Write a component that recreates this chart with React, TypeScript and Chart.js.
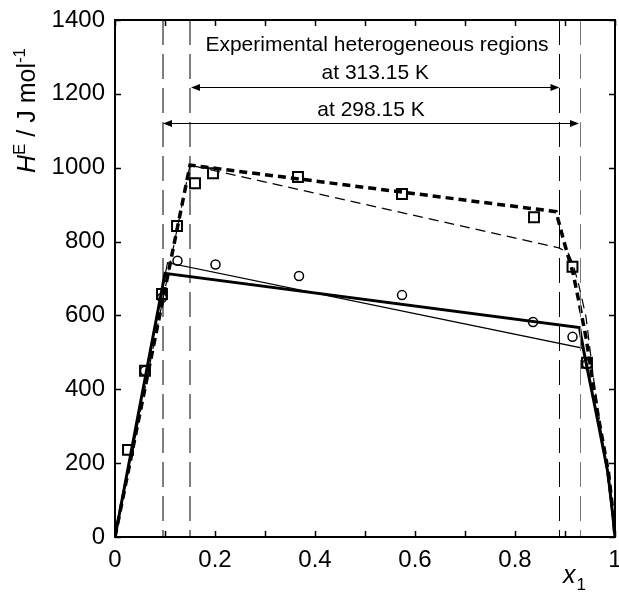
import React, { useEffect, useRef } from "react";
import { Chart, registerables } from "chart.js";

Chart.register(...registerables);

const FONT = '"Liberation Sans", Arial, Helvetica, sans-serif';

// Experimental data (squares: 313.15 K, circles: 298.15 K)
const squareX = [0.026, 0.06, 0.094, 0.124, 0.16, 0.196, 0.366, 0.574, 0.838, 0.915, 0.944];
const squareY = [236, 450, 658, 842, 958, 985, 975, 929, 866, 732, 472];
const circleX = [0.06, 0.094, 0.125, 0.201, 0.368, 0.574, 0.836, 0.915, 0.944];
const circleY = [450, 648, 748, 738, 707, 655, 582, 542, 468];

// Model curves
const thickSolidX = [0, 0.1, 0.929, 0.938, 0.964, 0.986, 0.996, 1];
const thickSolidY = [0, 714, 567, 500, 325, 173, 54, 0];
const thinSolidX = [0, 0.105, 0.937, 0.945, 0.966, 0.987, 0.996, 1];
const thinSolidY = [0, 743, 511, 455, 315, 168, 54, 0];
const thickDashX = [0, 0.15, 0.882, 0.9, 0.916, 0.93, 0.942, 0.966, 0.987, 0.997, 1];
const thickDashY = [0, 1007, 881, 790, 715, 623, 540, 330, 175, 55, 0];
const thinDashX = [0, 0.15, 0.888, 0.906, 0.916, 0.928, 0.942, 0.958, 0.975, 0.99, 1];
const thinDashY = [0, 1007, 783, 770, 740, 680, 596, 420, 260, 110, 0];

// Heterogeneous region boundaries
const boundaryX = [0.096, 0.15, 0.889, 0.931];
const boundaryColors = ["#000000", "#000000", "#000000", "#7a7a7a"];

// Axis settings
const xMin = 0, xMax = 1, xStep = 0.1;
const yMin = 0, yMax = 1400, yStep = 200;
const xLabels = ["0", "0.2", "0.4", "0.6", "0.8", "1"];

// Annotations
const titleText = "Experimental heterogeneous regions";
const titlePos = { x: 0.524, y: 1332 };
const arrow313 = { label: "at 313.15 K", from: 0.152, to: 0.889, y: 1218, labelY: 1255 };
const arrow298 = { label: "at 298.15 K", from: 0.096, to: 0.928, y: 1121, labelY: 1156 };

const zip = (xs: number[], ys: number[]) => xs.map((x, i) => ({ x, y: ys[i] }));

const decorPlugin = {
  id: "decor",
  afterDraw(chart: any) {
    const ctx = chart.ctx as CanvasRenderingContext2D;
    const xs = chart.scales.x;
    const ys = chart.scales.y;
    const { left, right, top, bottom } = chart.chartArea;
    ctx.save();
    // ticks inward
    ctx.strokeStyle = "#000";
    ctx.lineWidth = 1.5;
    const tl = 6;
    ctx.beginPath();
    for (let v = xMin; v <= xMax + 1e-9; v += xStep) {
      const px = Math.round(xs.getPixelForValue(v)) + 0.5;
      ctx.moveTo(px, bottom);
      ctx.lineTo(px, bottom - tl);
      ctx.moveTo(px, top);
      ctx.lineTo(px, top + tl);
    }
    for (let v = yMin; v <= yMax + 1e-9; v += yStep) {
      const py = Math.round(ys.getPixelForValue(v)) + 0.5;
      ctx.moveTo(left, py);
      ctx.lineTo(left + tl, py);
      ctx.moveTo(right, py);
      ctx.lineTo(right - tl, py);
    }
    ctx.stroke();
    // box
    ctx.lineWidth = 2;
    ctx.strokeRect(left, top, right - left, bottom - top);

    // annotation texts
    ctx.fillStyle = "#000";
    ctx.textAlign = "center";
    ctx.textBaseline = "middle";
    ctx.font = `21px ${FONT}`;
    ctx.fillText(titleText, xs.getPixelForValue(titlePos.x), ys.getPixelForValue(titlePos.y));
    const drawArrow = (a: any) => {
      const x1 = xs.getPixelForValue(a.from);
      const x2 = xs.getPixelForValue(a.to);
      const y = Math.round(ys.getPixelForValue(a.y)) + 0.5;
      ctx.lineWidth = 1;
      ctx.beginPath();
      ctx.moveTo(x1 + 4, y);
      ctx.lineTo(x2 - 4, y);
      ctx.stroke();
      const hl = 9, hw = 3.5;
      ctx.beginPath();
      ctx.moveTo(x1, y);
      ctx.lineTo(x1 + hl, y - hw);
      ctx.lineTo(x1 + hl, y + hw);
      ctx.closePath();
      ctx.fill();
      ctx.beginPath();
      ctx.moveTo(x2, y);
      ctx.lineTo(x2 - hl, y - hw);
      ctx.lineTo(x2 - hl, y + hw);
      ctx.closePath();
      ctx.fill();
      ctx.fillText(a.label, (x1 + x2) / 2, ys.getPixelForValue(a.labelY));
    };
    drawArrow(arrow313);
    drawArrow(arrow298);

    // y axis title: H^E / J mol^-1
    ctx.save();
    ctx.translate(35, 173);
    ctx.rotate(-Math.PI / 2);
    ctx.textAlign = "left";
    ctx.textBaseline = "alphabetic";
    let cx = 0;
    ctx.font = `italic 25px ${FONT}`;
    ctx.fillText("H", cx, 0);
    cx += ctx.measureText("H").width;
    ctx.font = `17px ${FONT}`;
    ctx.fillText("E", cx, -10);
    cx += ctx.measureText("E").width;
    ctx.font = `25px ${FONT}`;
    ctx.fillText(" / J mol", cx, 0);
    cx += ctx.measureText(" / J mol").width;
    ctx.font = `17px ${FONT}`;
    ctx.fillText("-1", cx, -10);
    ctx.restore();

    // x axis title: x_1
    ctx.textAlign = "left";
    ctx.textBaseline = "alphabetic";
    ctx.font = `italic 25px ${FONT}`;
    ctx.fillText("x", 563, 583);
    const w = ctx.measureText("x").width;
    ctx.font = `17px ${FONT}`;
    ctx.fillText("1", 563 + w + 1, 590);
    ctx.restore();
  },
};

export default function App() {
  const ref = useRef<HTMLCanvasElement | null>(null);
  useEffect(() => {
    document.body.style.margin = "0";
    const canvas = ref.current;
    if (!canvas) return;
    const lineDs = (label: string, xs: number[], ys: number[], width: number, dash: number[], color = "#000") => ({
      type: "line" as const,
      label,
      data: zip(xs, ys),
      borderColor: color,
      borderWidth: width,
      borderDash: dash,
      pointRadius: 0,
      fill: false,
      tension: 0,
    });
    const datasets: any[] = [];
    boundaryX.forEach((bx, i) => {
      datasets.push(lineDs("boundary" + i, [bx, bx], [yMax, yMin], 1, [25, 9], boundaryColors[i]));
    });
    datasets.push(lineDs("thinDash", thinDashX, thinDashY, 1.2, [10, 6]));
    datasets.push(lineDs("thickDash", thickDashX, thickDashY, 3.5, [8, 5]));
    datasets.push(lineDs("thinSolid", thinSolidX, thinSolidY, 1.2, []));
    datasets.push(lineDs("thickSolid", thickSolidX, thickSolidY, 3, []));
    datasets.push({
      type: "scatter",
      label: "313.15 K",
      data: zip(squareX, squareY),
      pointStyle: "rect",
      pointRadius: 7,
      pointBorderWidth: 2,
      pointBorderColor: "#000",
      pointBackgroundColor: "rgba(0,0,0,0)",
      showLine: false,
    });
    datasets.push({
      type: "scatter",
      label: "298.15 K",
      data: zip(circleX, circleY),
      pointStyle: "circle",
      pointRadius: 4.5,
      pointBorderWidth: 1.5,
      pointBorderColor: "#000",
      pointBackgroundColor: "rgba(0,0,0,0)",
      showLine: false,
    });

    const chart = new Chart(canvas, {
      type: "scatter",
      data: { datasets },
      options: {
        responsive: false,
        animation: false,
        events: [],
        layout: { autoPadding: false, padding: { left: 0, top: 20, right: 4, bottom: 0 } },
        plugins: { legend: { display: false }, tooltip: { enabled: false } },
        scales: {
          x: {
            type: "linear",
            min: xMin,
            max: xMax,
            border: { display: false },
            grid: { display: false, drawTicks: false },
            ticks: {
              stepSize: xStep,
              autoSkip: false,
              maxRotation: 0,
              padding: 9,
              color: "#000",
              font: { family: FONT, size: 24 },
              callback: (v: any, i: number) => (i % 2 === 0 ? xLabels[i / 2] : ""),
            },
            afterFit: (s: any) => {
              s.height = 62;
              s.paddingLeft = 0;
              s.paddingRight = 0;
            },
          },
          y: {
            type: "linear",
            min: yMin,
            max: yMax,
            border: { display: false },
            grid: { display: false, drawTicks: false },
            ticks: {
              stepSize: yStep,
              autoSkip: false,
              padding: 10,
              color: "#000",
              font: { family: FONT, size: 24 },
              callback: (v: any) => String(v),
            },
            afterFit: (s: any) => {
              s.width = 115;
              s.paddingTop = 0;
              s.paddingBottom = 0;
            },
          },
        },
      },
      plugins: [decorPlugin],
    });
    return () => chart.destroy();
  }, []);
  return (
    <div style={{ width: 619, height: 599 }}>
      <canvas ref={ref} width={619} height={599} style={{ display: "block" }} />
    </div>
  );
}
